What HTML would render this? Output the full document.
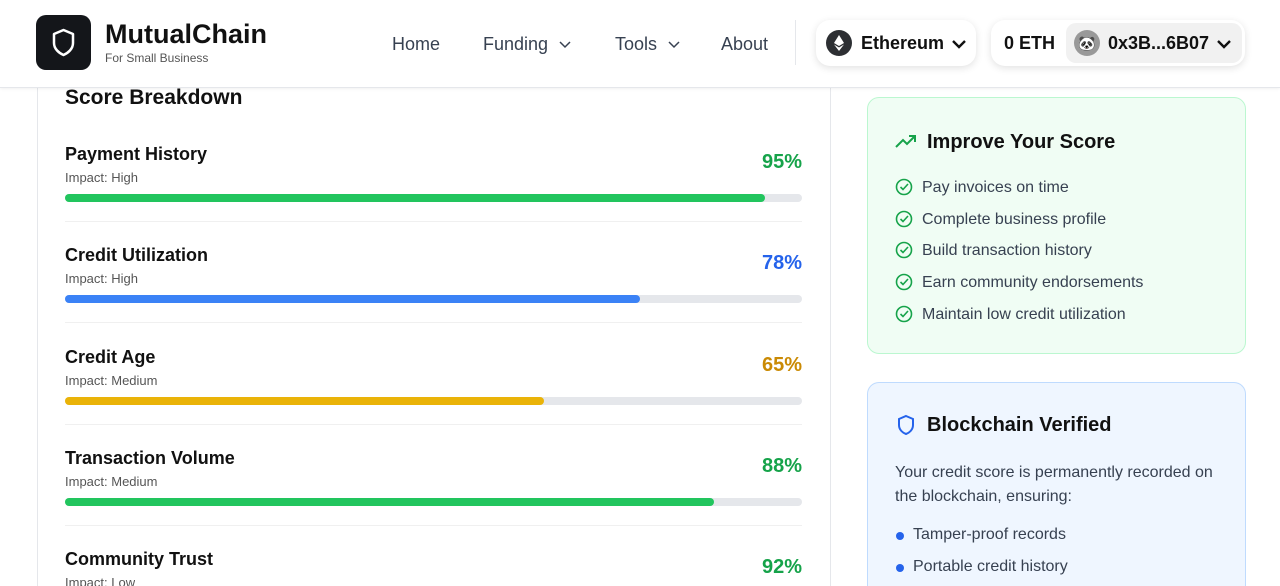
<!DOCTYPE html>
<html style="width:1280px;height:586px;overflow:hidden"><head><meta charset="utf-8"><style>
*{box-sizing:border-box;margin:0;padding:0}
body{width:1280px;height:586px;overflow:hidden;background:#fff;font-family:"Liberation Sans",sans-serif;color:#111;position:relative}
.hdr{position:absolute;left:0;top:0;width:1280px;height:88px;background:#fff;border-bottom:1px solid #e5e7eb;box-shadow:0 1px 3px rgba(0,0,0,.06);z-index:2}
.abs{position:absolute}
.logo{left:36px;top:15px;width:55px;height:55px;border-radius:10px;background:#14161a}
.nav{font-size:18px;color:#374151;top:34px}
.pill{background:#fff;border-radius:14px;box-shadow:0 2px 8px rgba(0,0,0,.12);height:46px;top:20px}
.card{position:absolute;left:37px;top:60px;width:794px;height:526px;border:1px solid #e5e7eb;border-top:none;border-bottom:none}
.row-name{font-size:18px;font-weight:bold;position:absolute;left:65px}
.row-imp{font-size:13px;color:#555;position:absolute;left:65px;white-space:nowrap;overflow:hidden;line-height:15px}
.pct{font-size:20px;font-weight:bold;position:absolute;right:478px}
.track{position:absolute;left:65px;width:737px;height:8px;border-radius:4px;background:#e5e7eb}
.fill{height:8px;border-radius:4px}
.sep{position:absolute;left:65px;width:737px;height:1px;background:#f0f0f0}
.side{position:absolute;left:867px;width:379px;border-radius:12px}
.li{position:absolute;left:922px;font-size:16px;color:#374151}
.chev{display:inline-block;vertical-align:middle}
</style></head><body>
<div class="hdr">
 <div class="abs logo">
  <svg width="55" height="55" viewBox="0 0 55 55"><path d="M27.5 15 L37 19 V28 C37 34 32 38 27.5 40 C23 38 18 34 18 28 V19 Z" fill="none" stroke="#fff" stroke-width="2.5" stroke-linejoin="round"/></svg>
 </div>
 <div class="abs" style="left:105px;top:19px;font-size:27px;font-weight:bold">MutualChain</div>
 <div class="abs" style="left:105px;top:51px;font-size:12px;color:#555">For Small Business</div>
 <div class="abs nav" style="left:392px">Home</div>
 <div class="abs nav" style="left:483px">Funding <svg class="chev" width="12" height="8" style="margin-left:6px"><path d="M1 1 L6 6 L11 1" fill="none" stroke="#374151" stroke-width="1.5"/></svg></div>
 <div class="abs nav" style="left:615px">Tools <svg class="chev" width="12" height="8" style="margin-left:6px"><path d="M1 1 L6 6 L11 1" fill="none" stroke="#374151" stroke-width="1.5"/></svg></div>
 <div class="abs nav" style="left:721px">About</div>
 <div class="abs" style="left:795px;top:20px;width:1px;height:45px;background:#e5e7eb"></div>
 <div class="abs pill" style="left:816px;width:160px">
  <div class="abs" style="left:10px;top:10px;width:26px;height:26px;border-radius:50%;background:#2d2f33"><svg width="26" height="26"><path d="M13 5 L18 13 L13 16 L8 13Z M8 14.5 L13 17.5 L18 14.5 L13 21Z" fill="#fff"/></svg></div>
  <div class="abs" style="left:45px;top:13px;font-size:18px;font-weight:bold">Ethereum <svg class="chev" width="14" height="9" style="margin-left:3px"><path d="M1 1 L7 7 L13 1" fill="none" stroke="#111" stroke-width="2.4"/></svg></div>
 </div>
 <div class="abs pill" style="left:991px;width:254px">
  <div class="abs" style="left:13px;top:13px;font-size:18px;font-weight:bold">0 ETH</div>
  <div class="abs" style="left:75px;top:3px;width:176px;height:40px;border-radius:10px;background:#f1f1f1">
   <div class="abs" style="left:8px;top:7px;width:26px;height:26px;border-radius:50%;background:#999;color:#fff;font-size:14px;text-align:center;line-height:26px">🐼</div>
   <div class="abs" style="left:42px;top:10px;font-size:18px;font-weight:bold">0x3B...6B07 <svg class="chev" width="14" height="9" style="margin-left:3px"><path d="M1 1 L7 7 L13 1" fill="none" stroke="#111" stroke-width="2.4"/></svg></div>
  </div>
 </div>
</div>
<div class="card"></div>
<div class="abs" style="left:65px;top:86px;font-size:21px;font-weight:bold">Score Breakdown</div>
<div id="rows"></div>
<div class="side" style="top:97px;height:257px;background:#f0fdf4;border:1px solid #bbf7d0"></div>
<svg class="abs" style="left:895px;top:133px" width="22" height="18"><path d="M1 14 L8 7 L12 11 L20 3 M14 3 H20 V9" fill="none" stroke="#16a34a" stroke-width="2"/></svg>
<div class="abs" style="left:927px;top:131px;font-size:20px;font-weight:bold">Improve Your Score</div>
<div id="tips"></div>
<div class="side" style="top:382px;height:204px;background:#eff6ff;border:1px solid #bfdbfe;border-bottom:none;border-radius:12px 12px 0 0"></div>
<svg class="abs" style="left:896px;top:414px" width="20" height="22"><path d="M10 2 L17 5 V11 C17 16 13 19 10 20 C7 19 3 16 3 11 V5Z" fill="none" stroke="#2563eb" stroke-width="2"/></svg>
<div class="abs" style="left:927px;top:414px;font-size:20px;font-weight:bold">Blockchain Verified</div>
<div class="abs" style="left:895px;top:461px;width:330px;font-size:16px;line-height:24px;color:#374151">Your credit score is permanently recorded on the blockchain, ensuring:</div>
<div class="abs" style="left:896px;top:532px;width:8px;height:8px;border-radius:50%;background:#2563eb"></div>
<div class="abs" style="left:913px;top:526px;font-size:16px;color:#374151">Tamper-proof records</div>
<div class="abs" style="left:896px;top:564px;width:8px;height:8px;border-radius:50%;background:#2563eb"></div>
<div class="abs" style="left:913px;top:558px;font-size:16px;line-height:18px;height:18px;color:#374151">Portable credit history</div>
<script>
const categories=["Payment History","Credit Utilization","Credit Age","Transaction Volume","Community Trust"];
const impacts=["High","High","Medium","Medium","Low"];
const values=[95,78,65,88,92];
const barColors=["#22c55e","#3b82f6","#eab308","#22c55e","#22c55e"];
const pctColors=["#16a34a","#2563eb","#ca8a04","#16a34a","#16a34a"];
const tips=["Pay invoices on time","Complete business profile","Build transaction history","Earn community endorsements","Maintain low credit utilization"];
const rows=document.getElementById('rows');
categories.forEach((c,i)=>{
 const y=144+i*101.3;
 const n=document.createElement('div');n.className='row-name';n.style.top=y+'px';n.textContent=c;
 
 
 const m=document.createElement('div');m.className='row-imp';m.style.top=(y+26)+'px';m.textContent='Impact: '+impacts[i];
 m.style.height=Math.min(17,586-(y+26))+'px';
 
 
 const p=document.createElement('div');p.className='pct';p.style.top=(y+7)+'px';p.style.color=pctColors[i];p.textContent=values[i]+'%';
 
 
 rows.append(n,m,p);
 if(y+50<586){
 const t=document.createElement('div');t.className='track';t.style.top=(y+50)+'px';
 
 
 const f=document.createElement('div');f.className='fill';f.style.width=(values[i]/100*737)+'px';f.style.background=barColors[i];
 
 
 t.appendChild(f);
 rows.appendChild(t);
 }
 if(i<4){const s=document.createElement('div');s.className='sep';s.style.top=(y+77)+'px';
 
 
 rows.appendChild(s);}
});
const tp=document.getElementById('tips');
tips.forEach((t,i)=>{
 const y=178+i*31.7;
 const ic=document.createElementNS('http://www.w3.org/2000/svg','svg');
 ic.setAttribute('width','20');ic.setAttribute('height','20');
 ic.setAttribute('style','position:absolute;left:895px;top:'+y+'px');
 ic.innerHTML='<circle cx="9" cy="9" r="7.5" fill="none" stroke="#16a34a" stroke-width="1.6"/><path d="M5.5 9 L8 11.5 L13 6" fill="none" stroke="#16a34a" stroke-width="1.6"/>';
 
 
 const d=document.createElement('div');d.className='li';d.style.top=(y+1)+'px';d.textContent=t;
 
 
 tp.append(ic,d);
});
</script>
</body></html>
